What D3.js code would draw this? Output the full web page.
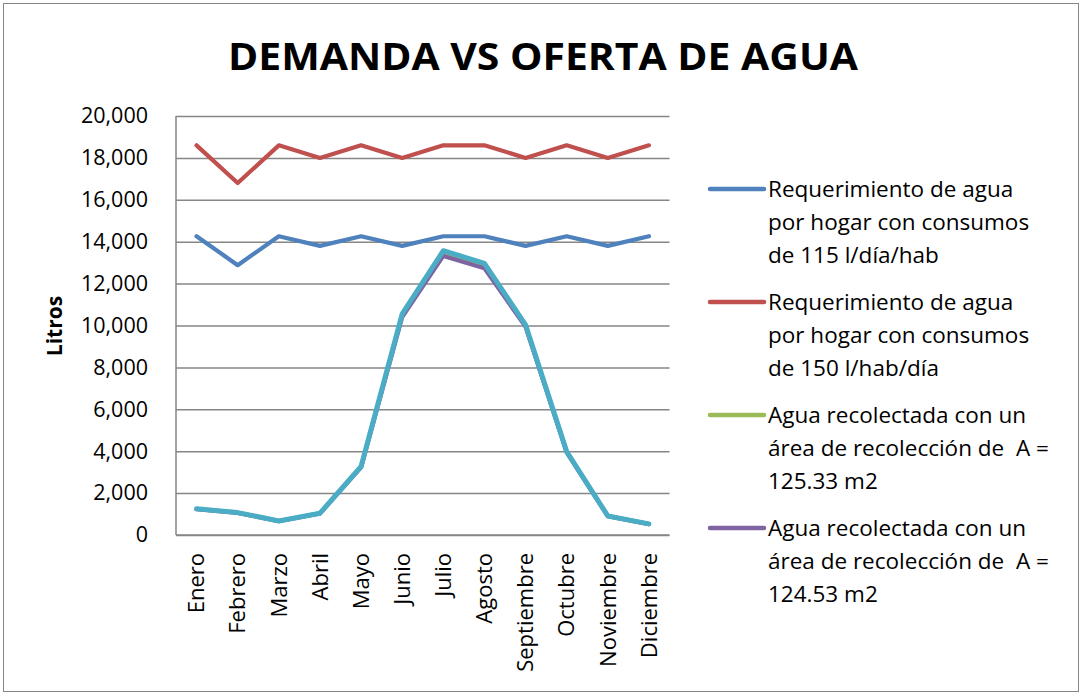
<!DOCTYPE html>
<html><head><meta charset="utf-8">
<script src="https://cdn.jsdelivr.net/npm/d3@7"></script>
<style>body{margin:0;background:#fff}svg{display:block}text{font-family:"Open Sans",sans-serif;fill:#000;white-space:pre}</style>
</head><body>
<svg id="c" width="1083" height="696"></svg>
<script>
const months = ["Enero","Febrero","Marzo","Abril","Mayo","Junio","Julio","Agosto","Septiembre","Octubre","Noviembre","Diciembre"];
const yTicks = [0,2000,4000,6000,8000,10000,12000,14000,16000,18000,20000];
const req115 = [14260,12880,14260,13800,14260,13800,14260,14260,13800,14260,13800,14260];
const req150 = [18600,16800,18600,18000,18600,18000,18600,18600,18000,18600,18000,18600];
const agua12533 = [1245,1065,668,1035,3260,10480,13450,12850,9990,3965,905,525];
const agua12453 = [1230,1055,660,1025,3230,10400,13320,12730,9940,3950,900,520];
const aguaExtra = [1250,1070,670,1040,3270,10550,13570,12970,10030,3980,910,530];
const legendLines = [["Requerimiento de agua","por hogar con consumos","de 115 l/día/hab"],["Requerimiento de agua","por hogar con consumos","de 150 l/hab/día"],["Agua recolectada con un","área de recolección de  A =","125.33 m2"],["Agua recolectada con un","área de recolección de  A =","124.53 m2"]];
const colors = ["#4F81BD","#C0504D","#9BBB59","#8064A2","#4BACC6"];
const series = [req115, req150, agua12533, agua12453, aguaExtra];

const svg = d3.select("#c");
svg.append("rect").attr("x",3.5).attr("y",3.5).attr("width",1075).attr("height",688).attr("fill","#fff").attr("stroke","#868686").attr("stroke-width",1);

const L=176, R=669.5, T=116, B=535;
const x = d3.scaleBand().domain(months).range([L,R]);
const y = d3.scaleLinear().domain([0,20000]).range([B,T]);

const g = svg.append("g").attr("transform",`translate(${L},0)`)
  .call(d3.axisLeft(y).tickValues(yTicks).tickSize(-(R-L)).tickFormat(d3.format(",")).tickPadding(28));
g.select(".domain").remove();
g.selectAll(".tick line").attr("stroke","#868686").attr("stroke-width",1.5);
g.selectAll(".tick text").attr("font-size",21.5).attr("fill","#000").attr("font-family","'Open Sans',sans-serif");
svg.append("line").attr("x1",L).attr("x2",L).attr("y1",T).attr("y2",B).attr("stroke","#868686").attr("stroke-width",1.5);
svg.append("line").attr("x1",L).attr("x2",R).attr("y1",B).attr("y2",B).attr("stroke","#868686").attr("stroke-width",1.5);

const gx = svg.append("g").attr("transform",`translate(0,${B})`).call(d3.axisBottom(x).tickSize(0).tickPadding(0));
gx.select(".domain").remove();
gx.selectAll(".tick text").attr("font-size",22).attr("font-family","'Open Sans',sans-serif").attr("fill","#000")
  .attr("text-anchor","end").attr("dy","0.35em").attr("transform","translate(0,18) rotate(-90)");

const line = d3.line().x((d,i)=>x(months[i])+x.bandwidth()/2).y(d=>y(d));
series.forEach((s,k)=>{
  svg.append("path").datum(s).attr("d",line).attr("fill","none").attr("stroke",colors[k])
    .attr("stroke-width",k===4?5:4.2).attr("stroke-linejoin","round").attr("stroke-linecap","round");
});

svg.append("text").attr("x",543).attr("y",70).attr("text-anchor","middle").attr("font-size",38).attr("font-weight","bold")
  .attr("textLength",630).attr("lengthAdjust","spacingAndGlyphs").text("DEMANDA VS OFERTA DE AGUA");

svg.append("text").attr("transform","translate(62,326) rotate(-90)").attr("text-anchor","middle").attr("font-size",21).attr("font-weight","bold").text("Litros");

const ly0 = 189, lstep = 113;
legendLines.forEach((ls,k)=>{
  const yy = ly0 + k*lstep;
  svg.append("line").attr("x1",710).attr("x2",764).attr("y1",yy).attr("y2",yy).attr("stroke",colors[k]).attr("stroke-width",4.5).attr("stroke-linecap","round");
  ls.forEach((t,j)=>{
    svg.append("text").attr("x",768).attr("y",yy+j*33).attr("dy","0.35em").attr("font-size",22.5).text(t);
  });
});
</script>
</body></html>
